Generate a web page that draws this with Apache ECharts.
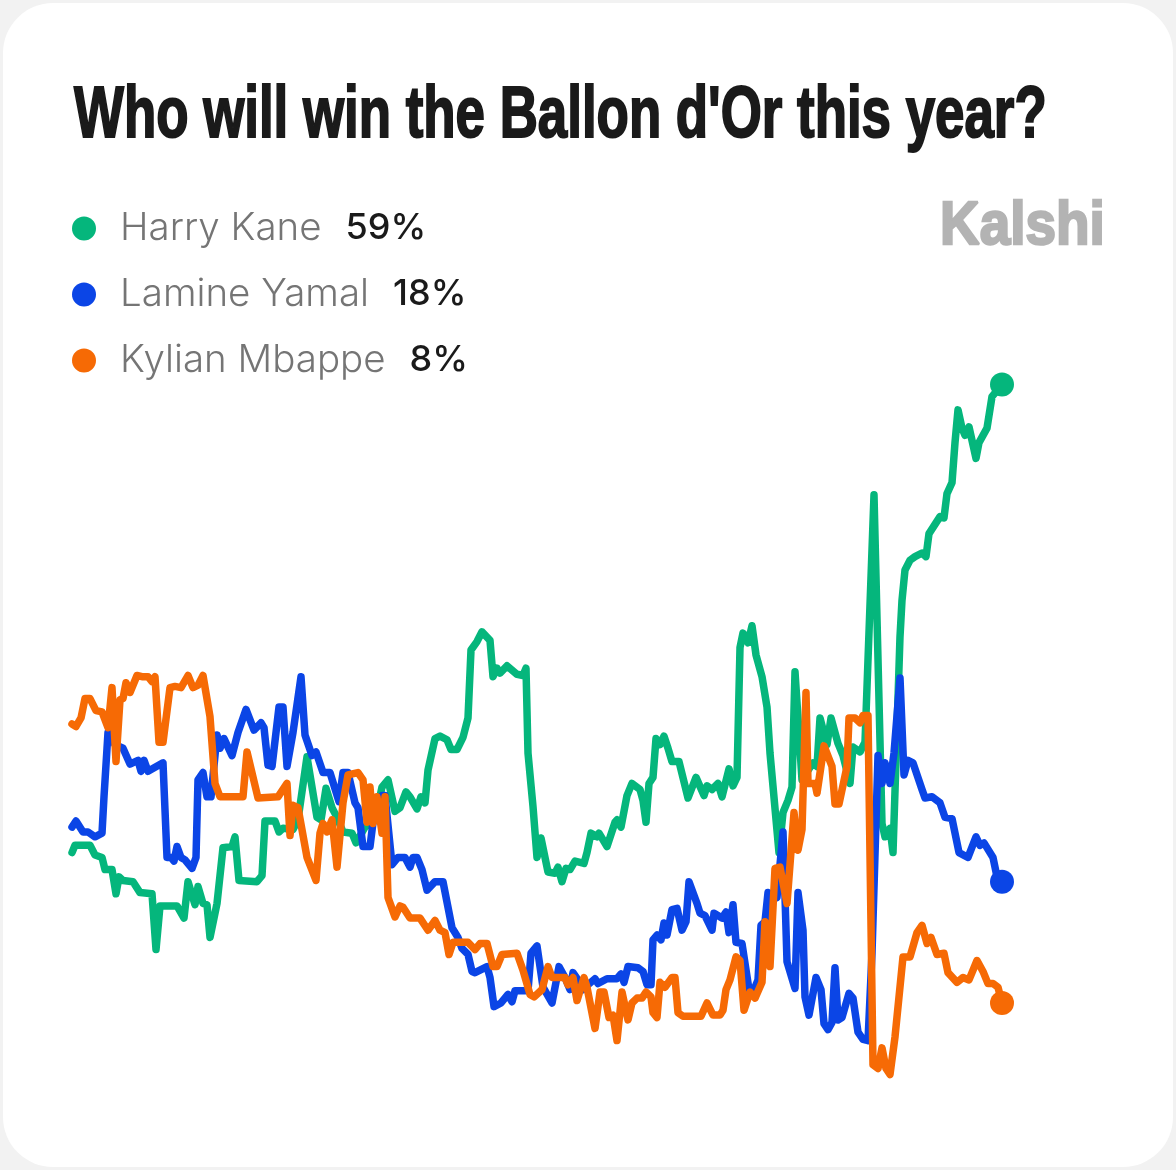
<!DOCTYPE html>
<html>
<head>
<meta charset="utf-8">
<style>
html, body { margin: 0; padding: 0; background: #f2f2f2; }
#chart { width: 1176px; height: 1170px; }
</style>
<script src="https://cdn.jsdelivr.net/npm/echarts@6/dist/echarts.min.js"></script>
</head>
<body>
<div id="chart"></div>
<script>
const titleText = "Who will win the Ballon d'Or this year?";
const brandText = 'Kalshi';
const names = ['Harry Kane', 'Lamine Yamal', 'Kylian Mbappe'];
const latest = ['59%', '18%', '8%'];
const colors = ['#05b67c', '#0b45e6', '#f66a05'];

const kaneDays = [0.5,1.25,5,6.25,8,8.75,10.5,11.5,12.25,13.25,15.75,17.5,20.5,21.5,22.5,26.75,28.5,29.5,31.25,32,33.25,34.25,35,36.75,38.25,40.5,41.25,42.25,46.75,48,48.75,51.25,52.25,53.25,55.75,57,59.25,61.75,62.75,64,65.5,66.75,68.25,70.5,71.5,73.75,76.25,78,79.5,81.25,82.5,84,85,86.75,87.75,88.75,89.5,91.25,92.5,94.25,95.25,96.75,98.25,99.5,100.25,101.75,103,105,105.75,106.75,107.5,109.25,111.75,113.25,114,114.5,115.75,116.75,117.75,119.5,121.25,122,123,124,125,126.25,128.5,129.25,130.25,131.75,132.25,134.25,136.25,136.75,137.75,139.25,140.5,142.5,143.25,144,144.75,145.75,146.5,147.5,148.5,149.5,150.5,152.25,154.5,156.5,158.5,159.25,160.5,162,163,164.75,165.75,166.75,167.5,168.25,169.5,170.5,171.5,173,174.25,175,177.25,178.25,179.5,180.5,181.25,183,185.75,186.75,187.5,189.25,190.25,192,193.25,195,195.75,197.5,198.75,201,203,203.75,205,205.75,207.5,208,208.75,210,211.25,213,214,214.75,217.5,218.5,219.25,220.5,221.25,222,223,223.75,224.75,226.5,227.25,229.25,230.5,233];
const kaneValues = [20.4,21,21,20.2,20,19,19,17,18.4,18.1,18,17.1,17,12.4,16,16,15,18,16.1,17.6,16.2,16.1,13.4,16.2,20.8,20.9,21.7,18.1,18,18.5,23,23,22.1,22.4,22.3,23.1,28.3,23.3,23.1,25.7,24.1,23.3,22.1,22,21.2,22.5,23.1,25.8,26.4,23.8,24.1,25.4,25,24,25,24.5,27.2,29.8,30,29.7,28.9,28.9,29.9,31.5,37.1,37.8,38.6,37.9,34.9,35.6,35.2,35.8,35.1,35,35.6,28.6,24.2,20,21.6,18.8,18.7,19.2,18,19.1,19,19.7,19.5,20.4,22,21.7,22,20.9,22.9,23.1,22.5,25.1,26.1,25.6,24.7,22.9,26.1,26.6,29.8,29.3,30,29,27.9,27.9,24.9,26.6,25.1,25.9,25.6,26.1,25,27.3,25.9,26.6,37.3,38.5,37.7,39.1,36.7,34.9,32.4,28.6,20.4,23.7,24.7,25.8,35.3,26.4,27.8,27.5,31.5,29.3,31.5,29.4,28.4,26.1,29.1,28.7,29.5,49.9,22.8,21.7,22.4,20.4,38.2,41.2,43.7,44.5,44.8,45.1,44.8,46.7,48.1,48,50,50.9,54.2,56.9,55.4,54.8,55.5,52.9,54.2,55.4,58,59];

const yamalDays = [0.5,1.5,3.25,4.5,6.25,8,8.5,9.5,11.25,13.25,15,17,17.75,18.5,19.5,23.25,24.25,25.25,26,26.75,27.75,28.75,30.5,31.5,32,33.25,34.25,35.25,36.75,37.5,38.5,40.5,42,44,46,47.75,48.5,49.5,50.5,52.25,53.25,54.25,55.75,57.75,58.75,60.5,61.5,63.25,65,67.25,68.25,69.5,71.25,72,73.25,75,76.25,78,78.75,80.5,82,83.75,85,85.75,86.75,88,89.25,91.25,93.25,94.5,95.5,97,98,99.5,100.5,101.25,104.25,105,106,107.75,109.5,110.5,111.25,114.5,115.25,116.75,118.25,120.5,122.25,123.75,125,125.75,127,128.25,129.5,131.25,132,134.25,136.75,137.75,138.5,139.5,142,143.25,144.25,145.25,145.75,146.75,147.75,148.5,149.25,150.5,151.75,153,154,154.75,156.75,157.5,158.75,160.5,161,163,164,164.75,165.75,166.5,168,169.75,170.75,172,172.75,173.75,174.5,176.75,178.25,179.25,181.25,182,183.25,183.75,184.75,186.5,187.75,188.5,189.5,190.5,191.25,192,193,194.75,195.75,197,198.25,199.5,200.5,202,203,203.75,205,206,207.5,208.5,209.5,210.75,213,213.75,215.5,217.5,218.75,220.5,222.25,224.5,226.5,227.5,228.5,230.75,231.75,233];
const yamalValues = [22.5,23,22.1,22.1,21.7,22,25,30.3,29.3,29,27.7,28,27.1,28,27.1,27.8,20,20,19.7,20.9,20,19.8,19.1,20,26.4,27,25,25,30.1,29,29.8,28.4,30.3,32.2,30.5,31.1,30.7,27.6,27.5,32.4,32.4,27.5,30.3,34.9,30.1,28.4,28.7,27,27,24.6,27,27,24.5,24.1,20.9,20.9,24.2,25.1,25.1,19.4,20,20,19.2,20,20,19,17.3,18,18,15.9,14.2,13.4,12.5,12,10.6,10.5,11,10.1,7.7,8,8.7,8.1,9,9,12.1,12.7,9.3,8,11,10.1,9.1,10.5,9.9,9.1,9.5,10,9.6,10,10,10.4,9.7,11,10.9,10.6,9.5,9.5,13.2,13.6,13.2,14.6,13.6,15.7,15.8,14,14.7,18,16.2,15.4,15.2,14,15.4,15,15.5,13.8,16.1,13,12.9,9.1,8.9,9.9,14.4,14.7,17.1,16.7,22.1,11.4,9.2,17.1,14,8.5,7,10.1,9.1,6.3,5.8,6.4,10.9,6.6,6.8,8.8,8.4,5.6,5,4.9,12.1,28.4,26.1,27.8,26.1,28.6,34.8,26.8,28,27.8,25.6,24.9,25,24.5,23.3,23.2,20.4,20,21.7,21,21.2,20,18.4,18];

const mbappeDays = [0.5,1.5,2.75,3.75,5,6.5,8,9.5,10.5,11.5,12.5,13.25,14,15,16.75,18,19.5,20.5,21.25,22.25,23.25,25,26.25,27.75,29.5,30.75,32,33.25,35,36.25,37.5,43.25,44.25,47,52,54.25,55,55.75,57,59.25,61.5,62.5,63.25,64.25,65.5,66.75,68.25,69.5,72,73.25,74.25,75,75.75,76.75,78,78.75,79.5,81.25,82.5,83.25,85,87.5,89.5,91.25,92.5,93.75,94.75,95.75,99.5,101.25,102.5,104.25,105.75,106.75,108,111.75,113.25,115,116,118,119.5,120.5,123.75,124.5,125.75,126.75,128.5,129.25,131.25,132.5,133.5,134.75,135.75,136.75,138,139.5,140.5,141.75,143,144,145.25,145.75,146.75,147.5,148.75,150.5,151.25,152,153.25,157.75,159.25,160.75,162.5,163.25,164,165,166.5,167.5,168.5,170,171.25,173,173.75,175,176.25,177.5,179.25,181,182,183,184,184.5,186.25,186.75,188.5,190.5,191.25,192.25,194.25,194.75,196.25,197.5,198.25,199.5,200.75,202,203,204,205,206.25,208.25,210,211.75,213,214.25,215.25,216.75,218.5,219.5,221.75,223.25,224.75,226.75,228.25,229.5,230.75,232,233];
const mbappeValues = [31,30.8,31.5,33.1,33.1,32.1,32,30.7,34,27.9,33,33.1,34.4,33.6,35,34.9,34.9,34.5,34.9,29.5,29.5,34,34.1,34,35,34,34.2,35,31.6,26.1,25,25,28.7,24.9,25,26.1,21.8,24.3,24.1,20,18.1,22,22.8,22.1,23.1,19.2,24.5,26.8,27,26.4,22.9,25.8,22.8,25,22,25,16.7,15.1,16,15.9,15,15,14,14.8,14,13.8,12,13,13,12.4,12.9,12.9,11,11,12,12.1,10.7,8.7,8.5,9.1,11,10.1,10.1,9.5,10.1,8.2,10.1,9.3,5.9,8.9,8.9,6.8,7,4.9,8.9,6.6,8,8.4,8.4,8.9,8.5,7.2,6.8,9.7,9.3,10.1,10.1,7.2,6.9,6.9,8,7,7,7.4,9.1,9.9,11.8,11.5,7.4,8.9,8.4,9.7,14.7,11,19.1,19.2,16.2,23.7,20.6,22.3,33.6,26.1,26.1,25.3,29.2,27.5,24.4,24.4,27.5,31.5,31.5,31.1,31.7,31.7,2.9,2.6,4.3,2.6,2.1,5.2,11.8,11.8,13.8,14.4,12.9,13.4,12,12.1,10.5,9.7,10.1,9.9,11.5,10.6,9.6,9.6,9.3,8];

const sets = [[kaneDays, kaneValues], [yamalDays, yamalValues], [mbappeDays, mbappeValues]];

const chart = echarts.init(document.getElementById('chart'));

const series = names.map((name, i) => {
    const points = sets[i][0].map((d, j) => [d, sets[i][1][j]]);
    return {
        name: name,
        type: 'line',
        data: points,
        showSymbol: false,
        symbol: 'circle',
        itemStyle: { color: colors[i] },
        lineStyle: { color: colors[i], width: 7.5, join: 'round', cap: 'round' },
        markPoint: {
            symbol: 'circle',
            symbolSize: 24,
            itemStyle: { color: colors[i] },
            label: { show: false },
            data: [{ coord: points[points.length - 1] }]
        }
    };
});

chart.setOption({
    animation: false,
    backgroundColor: '#f2f2f2',
    graphic: [
        { type: 'rect', z: -10, shape: { x: 3, y: 3, width: 1170, height: 1164, r: 50 }, style: { fill: '#ffffff' } },
        {
            type: 'text', x: 74, y: 81, scaleX: 0.734,
            style: { text: titleText, font: 'bold 72px "Liberation Sans"', fill: '#1a1a1a', stroke: '#1a1a1a', lineWidth: 2 }
        },
        {
            type: 'text', x: 940, y: 196, scaleX: 0.885,
            style: { text: brandText, font: 'bold 62px "Liberation Sans"', fill: '#b3b3b3', stroke: '#b3b3b3', lineWidth: 2.5 }
        }
    ],
    grid: { left: 70, right: 174, top: 251, bottom: 70 },
    xAxis: { type: 'value', min: 0, max: 233, show: false },
    yAxis: { type: 'value', min: 0, max: 70, show: false },
    legend: {
        data: names,
        orient: 'vertical',
        left: 67,
        top: 204,
        icon: 'circle',
        itemWidth: 24,
        itemHeight: 24,
        itemGap: 27,
        selectedMode: false,
        formatter: (name) => `{n|${name}}{v|${latest[names.indexOf(name)]}}`,
        textStyle: {
            rich: {
                n: { fontFamily: 'Inter', fontWeight: 300, fontSize: 38.5, lineHeight: 42, color: '#757575', padding: [0, 24, 0, 19] },
                v: { fontFamily: 'Inter', fontWeight: 500, fontSize: 36, lineHeight: 42, color: '#1a1a1a' }
            }
        }
    },
    series: series
});
</script>
</body>
</html>
